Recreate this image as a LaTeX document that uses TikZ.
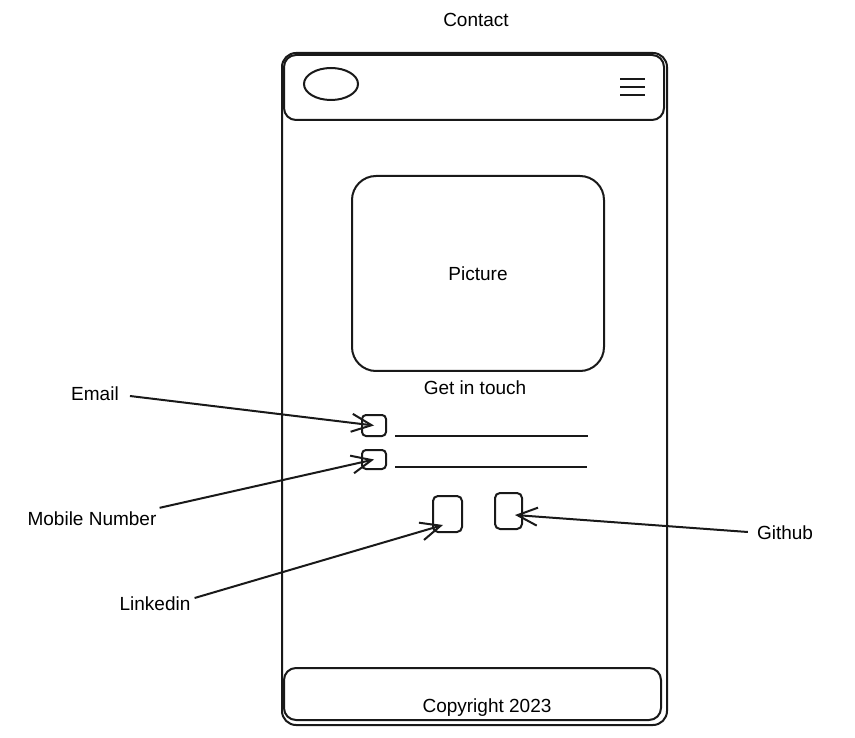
\documentclass[tikz,border=0pt]{standalone}
\usepackage{fontspec}
\setmainfont{Liberation Sans}
\usetikzlibrary{arrows.meta,shapes.geometric}
\tikzset{
  ink/.style={draw=black!90, line width=2pt},
  panel/.style={ink, rounded corners=14pt, inner sep=0pt},
  field/.style={ink, rounded corners=4pt, inner sep=0pt},
  label/.style={font=\fontsize{19}{22}\selectfont, inner sep=1pt},
  pointer/.style={ink, -{Straight Barb[length=20pt,width=18pt,line width=2pt]}},
}
\begin{document}
\begin{tikzpicture}[x=1pt,y=-1pt]
\useasboundingbox (0,0) rectangle (855,738);

% title
\node[label] (title) at (476,20) {Contact};

% phone frame
\node[panel, minimum width=385pt, minimum height=672pt] (frame) at (474.5,389) {};

% header bar with logo and menu
\node[panel, rounded corners=12pt, minimum width=380pt, minimum height=65pt] (header) at (474,87.5) {};
\node[ink, ellipse, minimum width=54pt, minimum height=32pt, inner sep=0pt] (logo) at (331,84) {};
\coordinate (m1) at (620,79); \coordinate (m1e) at (645,79);
\coordinate (m2) at (620,87); \coordinate (m2e) at (645,87);
\coordinate (m3) at (620,95); \coordinate (m3e) at (645,95);
\draw[ink, line width=1.6pt] (m1) -- (m1e) (m2) -- (m2e) (m3) -- (m3e);

% picture placeholder
\node[panel, rounded corners=24pt, minimum width=252pt, minimum height=195pt, label] (pic) at (478,273.5) {Picture};

% contact section
\node[label] (touch) at (475,388) {Get in touch};
\node[field, minimum width=24pt, minimum height=21pt] (ebox) at (374,425.5) {};
\node[field, minimum width=24pt, minimum height=19pt] (mbox) at (374,459.5) {};
\coordinate (eline) at (395,436); \coordinate (elineend) at (588,436);
\coordinate (mline) at (395,467); \coordinate (mlineend) at (587,467);
\draw[ink] (eline) -- (elineend);
\draw[ink] (mline) -- (mlineend);

% social buttons
\node[field, rounded corners=5pt, minimum width=29pt, minimum height=36pt] (lbox) at (447.5,514) {};
\node[field, rounded corners=5pt, minimum width=27pt, minimum height=36pt] (gbox) at (508.5,511) {};

% footer
\node[panel, rounded corners=12pt, minimum width=377pt, minimum height=52pt] (footer) at (472.5,694) {};
\node[label] (copy) at (487,708) {Copyright 2023};

% annotations
\node[label] (lemail) at (95,394) {Email};
\node[label] (lmobile) at (92,519) {Mobile Number};
\node[label] (llinked) at (155,604) {Linkedin};
\node[label] (lgit) at (785,533) {Github};

\coordinate (ltip) at (443,525);
\coordinate (gtip) at (515,515);
\draw[pointer] (lemail.east) ++(10,2) -- (ebox.center);
\draw[pointer] (lmobile.north east) ++(2,-3) -- (mbox.center);
\draw[pointer] (llinked.east) ++(3,-6) -- (ltip);
\draw[pointer] (lgit.west) ++(-8,-1) -- (gtip);
\end{tikzpicture}
\end{document}
